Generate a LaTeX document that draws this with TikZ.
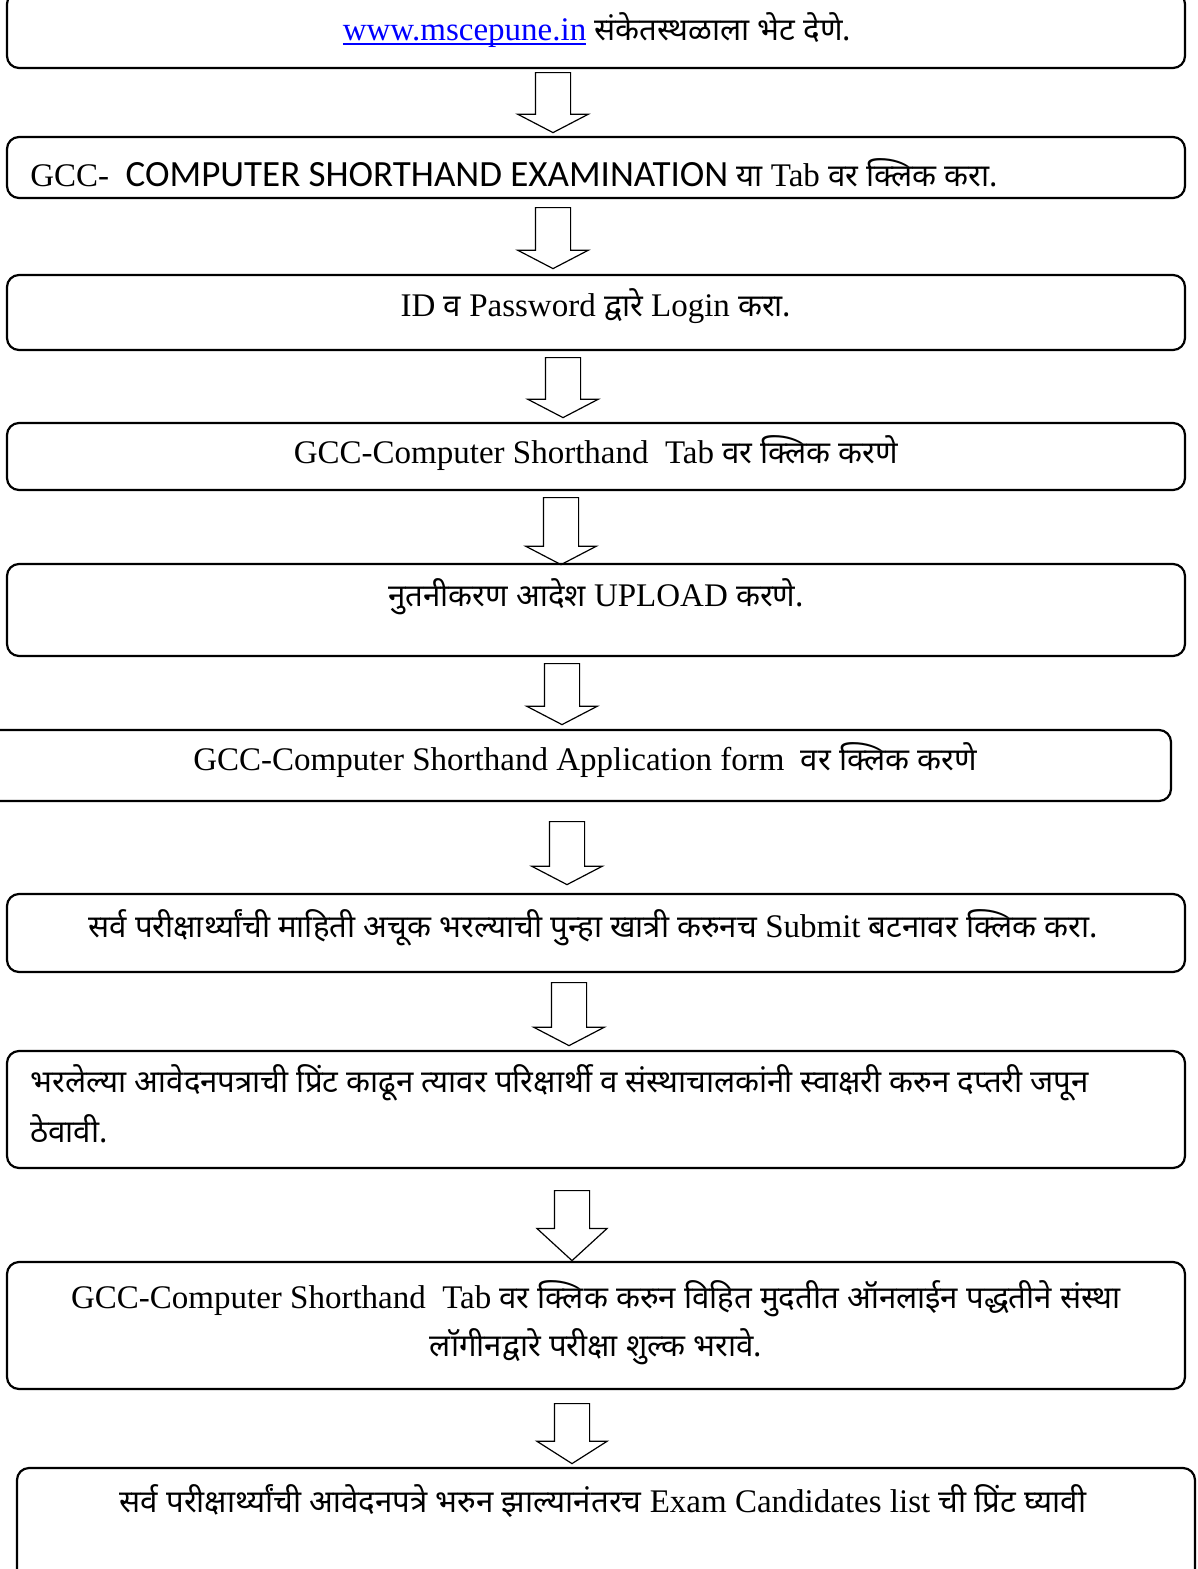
\documentclass[tikz,border=0pt]{standalone}
\usepackage{fontspec}
\setmainfont{Liberation Serif}
\newfontfamily\devfont[Script=Devanagari]{Noto Sans}
\newfontfamily\calfont{Carlito}
\usetikzlibrary{fit,shapes.arrows}
\definecolor{linkblue}{RGB}{0,0,255}
\newcommand\dv[1]{{\devfont\fontsize{15.6}{20}\selectfont #1}}
\newcommand\linkline[1]{\setbox0\hbox{#1}\rlap{\rule[-2.6pt]{\wd0}{1.1pt}}\box0}

\tikzset{
  stepbox/.style={draw, line width=1.1pt, rounded corners=6pt, inner sep=0pt},
  downarrow/.style={draw, line width=0.6pt, single arrow, rotate=-90, anchor=tail,
    inner xsep=0pt, inner ysep=8.5pt, single arrow head extend=8.75pt,
    single arrow tip angle=125, minimum height=#1},
  steptext/.style={anchor=base, inner sep=0pt, font=\fontsize{16.5}{20}\selectfont},
}

\begin{document}
\begin{tikzpicture}[x=0.5pt, y=-0.5pt]
\useasboundingbox (0,0) rectangle (1198,1569);
% boxes
\node[stepbox, fit={(7,-8) (1185,68)}] (b1) {};
\node[stepbox, fit={(7,137) (1185,198)}] (b2) {};
\node[stepbox, fit={(7,275) (1185,350)}] (b3) {};
\node[stepbox, fit={(7,423) (1185,490)}] (b4) {};
\node[stepbox, fit={(7,564) (1185,656)}] (b5) {};
\node[stepbox, fit={(-20,730) (1171,801)}] (b6) {};
\node[stepbox, fit={(7,894) (1185,972)}] (b7) {};
\node[stepbox, fit={(7,1051) (1185,1168)}] (b8) {};
\node[stepbox, fit={(7,1262) (1185,1389)}] (b9) {};
\node[stepbox, fit={(17,1468) (1195,1590)}] (b10) {};
% arrows between the steps
\node[downarrow=30pt] (a1) at (553,72) {};
\node[downarrow=30.5pt] (a2) at (553,207) {};
\node[downarrow=30pt] (a3) at (563,357) {};
\node[downarrow=33.5pt] (a4) at (561,497) {};
\node[downarrow=30.5pt] (a5) at (562,663) {};
\node[downarrow=31.5pt] (a6) at (567,821) {};
\node[downarrow=31.5pt] (a7) at (569,982) {};
\node[downarrow=35pt, single arrow tip angle=95] (a8) at (572,1190) {};
\node[downarrow=30pt, single arrow tip angle=115] (a9) at (572,1403) {};
% texts
\node[steptext] (t1) at (597,40) {{\color{linkblue}\linkline{www.mscepune.in}} \dv{संकेतस्थळाला भेट देणे.}};
\node[steptext, anchor=base west] (t2) at (30,186) {GCC-\ \ {\calfont\fontsize{18.5}{20}\selectfont COMPUTER SHORTHAND EXAMINATION} \dv{या} Tab \dv{वर क्लिक करा.}};
\node[steptext] (t3) at (596,316) {ID \dv{व} Password \dv{द्वारे} Login \dv{करा.}};
\node[steptext] (t4) at (596,463) {GCC-Computer Shorthand\ \ Tab \dv{वर क्लिक करणे}};
\node[steptext] (t5) at (596,606) {\dv{नुतनीकरण आदेश} UPLOAD \dv{करणे.}};
\node[steptext] (t6) at (585,770) {GCC-Computer Shorthand Application form\ \ \dv{वर क्लिक करणे}};
\node[steptext] (t7) at (593,937) {\dv{सर्व परीक्षार्थ्यांची माहिती अचूक भरल्याची पुन्हा खात्री करुनच} Submit \dv{बटनावर क्लिक करा.}};
\node[steptext, anchor=base west] (t8) at (30,1092) {\dv{भरलेल्या आवेदनपत्राची प्रिंट काढून त्यावर परिक्षार्थी व संस्थाचालकांनी स्वाक्षरी करुन दप्तरी जपून}};
\node[steptext, anchor=base west] (t8b) at (30,1142) {\dv{ठेवावी.}};
\node[steptext] (t9) at (596,1308) {GCC-Computer Shorthand\ \ Tab \dv{वर क्लिक करुन विहित मुदतीत ऑनलाईन पद्धतीने संस्था}};
\node[steptext] (t9b) at (596,1356) {\dv{लॉगीनद्वारे परीक्षा शुल्क भरावे.}};
\node[steptext] (t10) at (603,1512) {\dv{सर्व परीक्षार्थ्यांची आवेदनपत्रे भरुन झाल्यानंतरच} Exam Candidates list \dv{ची प्रिंट घ्यावी}};
\end{tikzpicture}
\end{document}
